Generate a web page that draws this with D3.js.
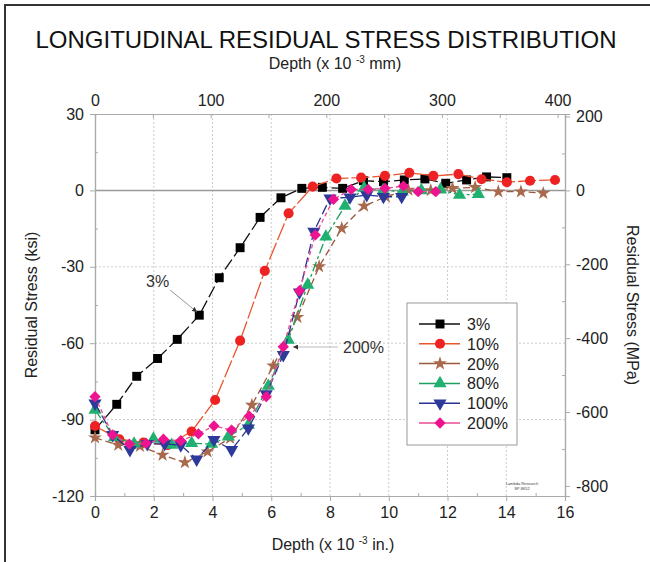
<!DOCTYPE html>
<html>
<head>
<meta charset="utf-8">
<script src="https://cdn.jsdelivr.net/npm/d3@7"></script>
<style>
  body { margin: 0; background: #fff; }
  svg { font-family: Arial, "Liberation Sans", sans-serif; }
</style>
</head>
<body>
<svg id="dessin" width="650" height="562"></svg>
<script>
// depth in 10^-3 in., stress in ksi
const depth3 = [0, 0.74, 1.42, 2.13, 2.80, 3.55, 4.23, 4.94, 5.62, 6.33, 7.04, 7.74, 8.43, 9.14, 9.82, 10.53, 11.23, 11.94, 12.65, 13.33, 14.02];
const stress3 = [-94, -84, -73, -66, -58.5, -49, -34.3, -22.5, -10.6, -2.9, 0.8, 1.2, 0.8, 3.8, 3.4, 4.1, 4.5, 2.8, 4.1, 5.3, 5.0];

const depth10 = [0, 0.83, 1.65, 2.47, 3.29, 4.09, 4.94, 5.78, 6.59, 7.41, 8.22, 9.06, 9.87, 10.7, 11.52, 12.37, 13.16, 14.02, 14.81, 15.66];
const stress10 = [-92.5, -97.7, -99, -100, -94.7, -82.3, -59, -31.6, -9, 1.5, 4.7, 5, 5.7, 6.9, 5.7, 6.4, 4.4, 3.2, 3.8, 4.1];

const depth20 = [0, 0.79, 1.53, 2.3, 3.06, 3.83, 4.6, 5.34, 6.07, 6.89, 7.63, 8.4, 9.16, 9.9, 10.67, 11.43, 12.17, 12.94, 13.73, 14.5, 15.26];
const stress20 = [-97.1, -100, -100.4, -103.9, -106.8, -102.6, -97.3, -84.3, -68.9, -49.8, -29.9, -14.9, -6.1, -2.5, 0.2, 0, 0.8, 1.2, -0.5, -0.5, -1.1];

const depth80 = [0, 0.66, 1.33, 1.99, 2.61, 3.29, 3.97, 4.54, 5.22, 5.9, 6.58, 7.24, 7.86, 8.51, 9.16, 9.81, 10.46, 11.11, 11.76, 12.41, 13.05];
const stress80 = [-86.2, -97, -99.5, -97.6, -100, -99.3, -99.6, -96.7, -92.1, -76.8, -58.7, -37.1, -18.2, -6.1, 1, 0, -0.5, 0, 0.3, -1.8, -1.5];

const depth100 = [0, 0.6, 1.19, 1.78, 2.37, 2.92, 3.46, 4.05, 4.65, 5.22, 5.83, 6.41, 6.96, 7.45, 8.0, 8.68, 9.25, 9.82, 10.44];
const stress100 = [-83.6, -96, -101.9, -99.5, -99.5, -100, -105.6, -97.9, -101.9, -93.4, -80, -64.6, -40, -16.2, -3.1, -2.7, -1.8, -2.5, -2.5];

const depth200 = [0, 0.6, 1.17, 1.74, 2.33, 2.92, 3.52, 4.05, 4.65, 5.25, 5.83, 6.41, 6.96, 7.5, 8.12, 8.72, 9.3, 9.87, 10.5, 11.0, 11.6];
const stress200 = [-81, -96, -99.6, -99.3, -97.7, -98.3, -95.6, -92.5, -94.1, -88.6, -81, -61.4, -39.4, -17.5, -3.5, 0.4, 0.4, 0.8, 1.7, -0.5, -0.5];

const serieNoms = ["3%", "10%", "20%", "80%", "100%", "200%"];

const ticksIn = [0, 2, 4, 6, 8, 10, 12, 14, 16];
const ticksKsi = [30, 0, -30, -60, -90, -120];
const ticksMm = [0, 100, 200, 300, 400];
const ticksMpa = [200, 0, -200, -400, -600, -800];

const styles = [
  { ligne: "#111", marque: "#000", dash: "12,4", sym: d3.symbolSquare, taille: 80, rot: 0 },
  { ligne: "#e8552f", marque: "#ee2222", dash: "18,3", sym: d3.symbolCircle, taille: 80, rot: 0 },
  { ligne: "#9a5a3c", marque: "#a8694c", dash: "7,4", sym: d3.symbolStar, taille: 60, rot: 0 },
  { ligne: "#1d9e5c", marque: "#20b070", dash: "10,3,3,3", sym: d3.symbolTriangle, taille: 75, rot: 0 },
  { ligne: "#2b3190", marque: "#2d3a9a", dash: "10,4", sym: d3.symbolTriangle, taille: 75, rot: 180 },
  { ligne: "#e84d93", marque: "#ee1490", dash: "4,3", sym: d3.symbolSquare, taille: 64, rot: 45 }
];

const series = [
  [depth3, stress3], [depth10, stress10], [depth20, stress20],
  [depth80, stress80], [depth100, stress100], [depth200, stress200]
].map(([xs, ys], i) => ({ nom: serieNoms[i], pts: xs.map((d, j) => [d, ys[j]]), st: styles[i] }));

const svg = d3.select("#dessin");
const gauche = 95, droite = 565, haut = 114, bas = 496;

const x = d3.scaleLinear().domain([0, 16]).range([gauche, droite]);
const y = d3.scaleLinear().domain([-120, 30]).range([bas, haut]);
const xMm = d3.scaleLinear().domain([0, 16 * 25.4]).range([gauche, droite]);
const yMpa = d3.scaleLinear().domain([-120 * 6.895, 30 * 6.895]).range([bas, haut]);

// cadre de la figure
svg.append("path").attr("d", "M5,562 L5,5 L650,5").attr("fill", "none").attr("stroke", "#333").attr("stroke-width", 2);

// grille pointillée
svg.append("g").selectAll("line").data(ticksIn.slice(1, -1)).enter().append("line")
  .attr("x1", d => x(d)).attr("x2", d => x(d)).attr("y1", haut).attr("y2", bas)
  .attr("stroke", "#ccc").attr("stroke-dasharray", "2,2");
svg.append("g").selectAll("line").data([-30, -60, -90]).enter().append("line")
  .attr("x1", gauche).attr("x2", droite).attr("y1", d => y(d)).attr("y2", d => y(d))
  .attr("stroke", "#ccc").attr("stroke-dasharray", "2,2");
svg.append("line").attr("x1", gauche).attr("x2", droite).attr("y1", y(0)).attr("y2", y(0))
  .attr("stroke", "#999").attr("stroke-width", 1.5);

function styleAxe(g) {
  g.selectAll(".domain").attr("stroke", "#aaa").attr("stroke-width", 1.2);
  g.selectAll(".tick line").attr("stroke", "#aaa");
  g.selectAll(".tick text").attr("fill", "#222").style("font-size", "16px");
}
const simple = d => String(d);

// axes principaux
svg.append("g").attr("transform", `translate(0,${bas})`)
  .call(d3.axisBottom(x).tickValues(ticksIn).tickFormat(simple).tickSize(5).tickPadding(6)).call(styleAxe);
svg.append("g").attr("transform", `translate(${gauche},0)`)
  .call(d3.axisLeft(y).tickValues(ticksKsi).tickFormat(simple).tickSize(5).tickPadding(6)).call(styleAxe);
svg.append("g").attr("transform", `translate(0,${haut})`)
  .call(d3.axisTop(xMm).tickValues(ticksMm).tickFormat(simple).tickSize(0).tickPadding(8)).call(styleAxe);
svg.append("g").attr("transform", `translate(${droite},0)`)
  .call(d3.axisRight(yMpa).tickValues(ticksMpa).tickFormat(simple).tickSize(5).tickPadding(6)).call(styleAxe);

// graduations secondaires
svg.append("g").attr("transform", `translate(0,${bas})`)
  .call(d3.axisTop(x).tickValues(d3.range(1, 16, 2)).tickSize(3).tickFormat("")).call(styleAxe);
svg.append("g").attr("transform", `translate(${gauche},0)`)
  .call(d3.axisRight(y).tickValues([15, -15, -45, -75, -105]).tickSize(3).tickFormat("")).call(styleAxe);
svg.append("g").attr("transform", `translate(0,${haut})`)
  .call(d3.axisBottom(xMm).tickValues(d3.range(0, 401, 50)).tickSize(4).tickFormat("")).call(styleAxe);
svg.append("g").attr("transform", `translate(${droite},0)`)
  .call(d3.axisLeft(yMpa).tickValues([100, -100, -300, -500, -700]).tickSize(3).tickFormat("")).call(styleAxe);

// titres
svg.append("text").attr("x", 326).attr("y", 48).attr("text-anchor", "middle")
  .style("font-size", "24px").attr("fill", "#111").text("LONGITUDINAL RESIDUAL STRESS DISTRIBUTION");

function titreDepth(xc, yc, unite) {
  const t = svg.append("text").attr("x", xc).attr("y", yc).attr("text-anchor", "middle")
    .style("font-size", "16px").attr("fill", "#222");
  t.append("tspan").text("Depth (x 10 ");
  t.append("tspan").attr("dy", -6).style("font-size", "10px").text("-3");
  t.append("tspan").attr("dy", 6).text(" " + unite + ")");
}
titreDepth(335, 69, "mm");
titreDepth(333, 550, "in.");

svg.append("text").attr("transform", "translate(37,305) rotate(-90)").attr("text-anchor", "middle")
  .style("font-size", "16px").attr("fill", "#222").text("Residual Stress (ksi)");
svg.append("text").attr("transform", "translate(627,305) rotate(90)").attr("text-anchor", "middle")
  .style("font-size", "16px").attr("fill", "#222").text("Residual Stress (MPa)");

// courbes
const ligne = d3.line().x(d => x(d[0])).y(d => y(d[1]));
const marque = st => d3.symbol().type(st.sym).size(st.taille)();

series.forEach(s => {
  const g = svg.append("g");
  g.append("path").datum(s.pts).attr("d", ligne).attr("fill", "none")
    .attr("stroke", s.st.ligne).attr("stroke-width", 1.3).attr("stroke-dasharray", s.st.dash);
  g.selectAll("path.m").data(s.pts).enter().append("path").attr("class", "m")
    .attr("d", marque(s.st))
    .attr("transform", d => `translate(${x(d[0])},${y(d[1])}) rotate(${s.st.rot})`)
    .attr("fill", s.st.marque);
});

// annotations
svg.append("defs").append("marker").attr("id", "fleche").attr("viewBox", "0 0 6 6")
  .attr("refX", 6).attr("refY", 3).attr("markerWidth", 5).attr("markerHeight", 5).attr("orient", "auto")
  .append("path").attr("d", "M0,0 L6,3 L0,6 Z").attr("fill", "#333");

svg.append("text").attr("x", 146).attr("y", 287).style("font-size", "16px").attr("fill", "#333").text("3%");
svg.append("line").attr("x1", 170).attr("y1", 290).attr("x2", 197).attr("y2", 312)
  .attr("stroke", "#999").attr("marker-end", "url(#fleche)");
svg.append("text").attr("x", 343).attr("y", 353).style("font-size", "16px").attr("fill", "#333").text("200%");
svg.append("line").attr("x1", 338).attr("y1", 347).attr("x2", 293).attr("y2", 347)
  .attr("stroke", "#bbb").attr("marker-end", "url(#fleche)");

// légende
const leg = svg.append("g");
leg.append("rect").attr("x", 407).attr("y", 303).attr("width", 110).attr("height", 142)
  .attr("fill", "#fff").attr("stroke", "#999");
series.forEach((s, i) => {
  const yy = 324 + i * 19.8;
  leg.append("line").attr("x1", 419).attr("x2", 460).attr("y1", yy).attr("y2", yy)
    .attr("stroke", s.st.ligne).attr("stroke-width", 1.5);
  leg.append("path").attr("d", marque(s.st))
    .attr("transform", `translate(440,${yy}) rotate(${s.st.rot})`).attr("fill", s.st.marque);
  leg.append("text").attr("x", 467).attr("y", yy + 6).style("font-size", "16px").attr("fill", "#222").text(s.nom);
});

svg.append("text").attr("x", 522).attr("y", 485).attr("text-anchor", "middle")
  .style("font-size", "4px").attr("fill", "#444").text("Lambda Research");
svg.append("text").attr("x", 522).attr("y", 490).attr("text-anchor", "middle")
  .style("font-size", "4px").attr("fill", "#444").text("SP-8652");
</script>
</body>
</html>
